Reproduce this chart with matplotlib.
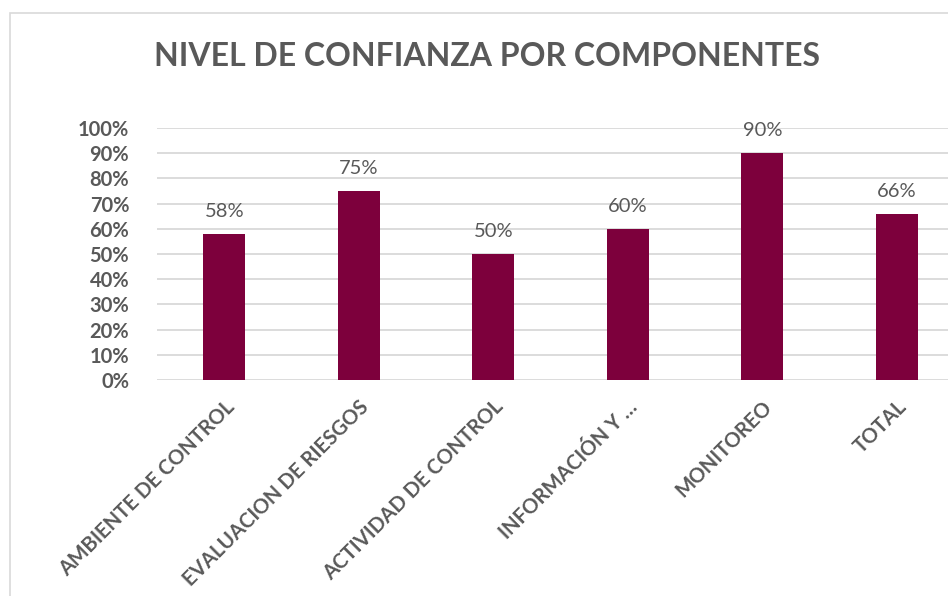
import matplotlib
matplotlib.use("Agg")
import matplotlib.pyplot as plt
from matplotlib.patches import Rectangle
from matplotlib.ticker import FuncFormatter

categories = ["AMBIENTE DE CONTROL", "EVALUACION DE RIESGOS", "ACTIVIDAD DE CONTROL",
              "INFORMACIÓN Y …", "MONITOREO", "TOTAL"]
values = [58, 75, 50, 60, 90, 66]
labels = ["58%", "75%", "50%", "60%", "90%", "66%"]
yticks = [0, 10, 20, 30, 40, 50, 60, 70, 80, 90, 100]

W, H = 948, 596
plt.rcParams['font.family'] = ['Lato', 'DejaVu Sans']
fig = plt.figure(figsize=(W/100, H/100), dpi=100)
gray = "#595959"
bar_color = "#7D003C"

# chart border (cropped at right/bottom)
fig.patches.append(Rectangle((10/W, -0.1), 2, (H-13)/H + 0.1, transform=fig.transFigure,
                             fill=False, edgecolor="#D9D9D9", linewidth=1.2))

left, right, bottom, top = 157, 964, 380, 128
ax = fig.add_axes([left/W, (H-bottom)/H, (right-left)/W, (bottom-top)/H])
x = range(len(categories))
ax.bar(x, values, width=0.31, color=bar_color, zorder=3)
ax.set_xlim(-0.5, len(categories)-0.5)
ax.set_ylim(0, 100)
ax.set_yticks(yticks)
ax.yaxis.set_major_formatter(FuncFormatter(lambda v, p: f"{int(v)}%"))
ax.grid(axis='y', color="#D9D9D9", linewidth=1.3, zorder=0)
ax.set_axisbelow(True)
for s in ax.spines.values():
    s.set_visible(False)
ax.tick_params(axis='both', length=0, colors=gray)
ax.tick_params(axis='y', pad=20)
for t in ax.get_yticklabels():
    t.set_fontsize(14.5); t.set_fontweight('bold'); t.set_color(gray)
ax.set_xticks(list(x))
ax.set_xticklabels(categories, rotation=45, ha='right', rotation_mode='anchor',
                   fontsize=14.7, fontweight='bold', color=gray)
ax.tick_params(axis='x', pad=12)
for i, (v, l) in enumerate(zip(values, labels)):
    ax.annotate(l, (i, v), xytext=(0, 10), textcoords='offset points',
                ha='center', va='bottom', fontsize=14.5, color=gray)

fig.text(487/W, 1 - 57/H, "NIVEL DE CONFIANZA POR COMPONENTES", ha='center', va='center',
         fontsize=23, fontweight='bold', color=gray)
fig.savefig("out.png", dpi=100)
